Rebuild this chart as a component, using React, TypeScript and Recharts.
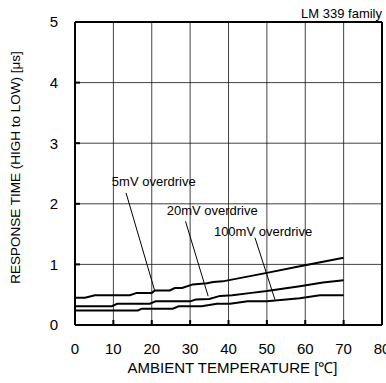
import {
  LineChart,
  Line,
  XAxis,
  YAxis,
  CartesianGrid,
  ReferenceLine,
  ReferenceDot
} from "recharts";

// ambient temperature (°C) / response time (µs)
const temp5mV = [0, 2.6, 5.2, 14.3, 16.1, 20, 20.8, 24.7, 26, 27.9, 30.7, 34.4, 36, 38.5, 50, 58.6, 70];
const resp5mV = [0.45, 0.45, 0.49, 0.49, 0.53, 0.53, 0.57, 0.57, 0.61, 0.61, 0.67, 0.69, 0.71, 0.72, 0.86, 0.97, 1.11];

const temp20mV = [0, 9.6, 11, 19.5, 21, 30, 31.5, 35, 37.8, 41, 46, 50, 58.6, 64.6, 70];
const resp20mV = [0.31, 0.31, 0.35, 0.35, 0.39, 0.39, 0.42, 0.43, 0.48, 0.49, 0.53, 0.56, 0.64, 0.7, 0.74];

const temp100mV = [0, 16.4, 17.4, 25.5, 27, 33, 37, 40.4, 45, 50, 58.6, 63.8, 70];
const resp100mV = [0.24, 0.24, 0.27, 0.27, 0.31, 0.31, 0.35, 0.35, 0.39, 0.39, 0.44, 0.49, 0.49];

const xTicks = [0, 10, 20, 30, 40, 50, 60, 70, 80];
const yTicks = [0, 1, 2, 3, 4, 5];

const seriesNames = ["5mV overdrive", "20mV overdrive", "100mV overdrive"];

const toPoints = (t: number[], v: number[]) => t.map((x, i) => ({ t: x, v: v[i] }));

const series = [
  toPoints(temp5mV, resp5mV),
  toPoints(temp20mV, resp20mV),
  toPoints(temp100mV, resp100mV)
];

const FONT = "'Liberation Sans', Arial, Helvetica, sans-serif";

// text anchor + leader line for each curve, in data units
const notes = [
  { tx: 9.6, ty: 2.37, from: [13.3, 2.18], to: [20.8, 0.56] },
  { tx: 23.9, ty: 1.89, from: [28.8, 1.71], to: [34.7, 0.475] },
  { tx: 36.2, ty: 1.55, from: [46.9, 1.44], to: [52.1, 0.42] }
];

export default function App() {
  return (
    <div style={{ position: "absolute", left: 0, top: 0, background: "#fff" }}>
      <LineChart
        width={386}
        height={383}
        margin={{ top: 22, right: 4, bottom: 17, left: 0 }}
        style={{ fontFamily: FONT }}
      >
        <CartesianGrid stroke="#111" strokeWidth={0.8} horizontalValues={yTicks} verticalValues={xTicks} />
        <XAxis
          type="number"
          dataKey="t"
          domain={[0, 80]}
          ticks={xTicks}
          interval={0}
          height={41}
          tickSize={-5}
          tickMargin={23}
          tick={{ fill: "#000", fontSize: 15 }}
          axisLine={{ stroke: "#000", strokeWidth: 2 }}
          tickLine={{ stroke: "#000", strokeWidth: 2 }}
          label={{
            content: ({ viewBox }: any) => (
              <text
                x={viewBox.x + viewBox.width / 2 + 4}
                y={viewBox.y + 48}
                textAnchor="middle"
                fontSize={15}
                fill="#000"
              >
                AMBIENT TEMPERATURE [℃]
              </text>
            )
          }}
        />
        <YAxis
          type="number"
          domain={[0, 5]}
          ticks={yTicks}
          interval={0}
          width={75}
          tickSize={-5}
          tickMargin={22}
          tick={{ fill: "#000", fontSize: 15 }}
          axisLine={{ stroke: "#000", strokeWidth: 2 }}
          tickLine={{ stroke: "#000", strokeWidth: 2 }}
          label={{
            content: ({ viewBox }: any) => {
              const cx = viewBox.x + 15;
              const cy = viewBox.y + viewBox.height / 2 - 6;
              return (
                <text
                  x={cx}
                  y={cy}
                  transform={`rotate(-90 ${cx} ${cy})`}
                  textAnchor="middle"
                  dominantBaseline="central"
                  fontSize={13.5}
                  fill="#000"
                >
                  RESPONSE TIME (HIGH to LOW) [μs]
                </text>
              );
            }
          }}
        />
        <ReferenceLine
          y={5}
          stroke="#000"
          strokeWidth={2}
          label={{
            content: ({ viewBox }: any) => (
              <text x={viewBox.x + viewBox.width} y={viewBox.y - 4} textAnchor="end" fontSize={13} fill="#000">
                LM 339 family
              </text>
            )
          }}
        />
        <ReferenceLine x={80} stroke="#000" strokeWidth={2} />
        {series.map((d, i) => (
          <Line
            key={seriesNames[i]}
            data={d}
            dataKey="v"
            type="linear"
            stroke="#000"
            strokeWidth={2}
            dot={false}
            isAnimationActive={false}
          />
        ))}
        {notes.map((n, i) => (
          <ReferenceLine
            key={"l" + i}
            segment={[
              { x: n.from[0], y: n.from[1] },
              { x: n.to[0], y: n.to[1] }
            ]}
            stroke="#000"
            strokeWidth={1}
          />
        ))}
        {notes.map((n, i) => (
          <ReferenceDot
            key={"t" + i}
            x={n.tx}
            y={n.ty}
            r={1}
            fill="none"
            stroke="none"
            label={{
              content: ({ viewBox }: any) => (
                <text
                  x={viewBox.x + 1}
                  y={viewBox.y + 1}
                  dominantBaseline="central"
                  fontSize={13}
                  fill="#000"
                >
                  {seriesNames[i]}
                </text>
              )
            }}
          />
        ))}
      </LineChart>
    </div>
  );
}
